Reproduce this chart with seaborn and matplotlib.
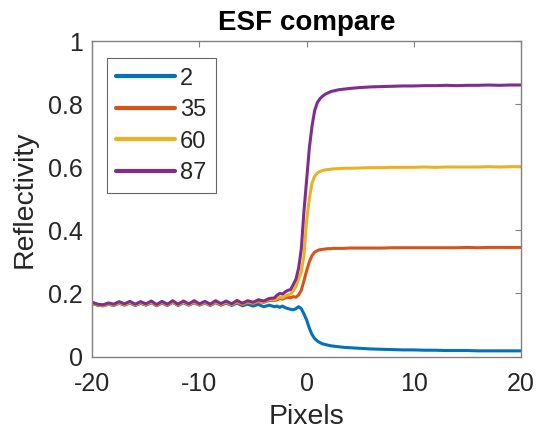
import numpy as np
import pandas as pd
import matplotlib
matplotlib.use("Agg")
import matplotlib.pyplot as plt
import seaborn as sns

# ---- data ----
pixels = [-20.0, -19.5, -19.0, -18.5, -18.0, -17.5, -17.0, -16.5, -16.0, -15.5,
          -15.0, -14.5, -14.0, -13.5, -13.0, -12.5, -12.0, -11.5, -11.0, -10.5,
          -10.0, -9.5, -9.0, -8.5, -8.0, -7.5, -7.0, -6.5, -6.0, -5.5,
          -5.0, -4.5, -4.0, -3.5, -3.0,
          -2.75, -2.5, -2.25, -2.0, -1.75, -1.5, -1.25, -1.0, -0.75, -0.5, -0.25,
          0.0, 0.25, 0.5, 0.75, 1.0, 1.25, 1.5, 1.75, 2.0, 2.25, 2.5,
          3.0, 3.5, 4.0, 5.0, 6.0, 7.0, 8.0, 9.0, 10.0, 11.0, 12.0, 13.0, 14.0,
          15.0, 16.0, 17.0, 18.0, 19.0, 20.0]

esf_2 = [0.168, 0.163, 0.161, 0.166, 0.162, 0.169, 0.163, 0.170, 0.162, 0.169,
         0.163, 0.171, 0.161, 0.170, 0.162, 0.172, 0.162, 0.171, 0.163, 0.171,
         0.163, 0.170, 0.162, 0.171, 0.163, 0.170, 0.162, 0.170, 0.161, 0.166,
         0.160, 0.165, 0.158, 0.163, 0.158,
         0.160, 0.156, 0.160, 0.155, 0.152, 0.150, 0.148, 0.152, 0.158, 0.152, 0.135,
         0.116, 0.090, 0.070, 0.057, 0.049, 0.044, 0.040, 0.038, 0.036, 0.034, 0.033,
         0.031, 0.029, 0.028, 0.026, 0.024, 0.023, 0.022, 0.021, 0.021, 0.020, 0.020,
         0.019, 0.019, 0.019, 0.018, 0.018, 0.018, 0.018, 0.018]

esf_35 = [0.169, 0.163, 0.161, 0.167, 0.163, 0.170, 0.164, 0.171, 0.163, 0.170,
          0.164, 0.172, 0.162, 0.171, 0.163, 0.173, 0.163, 0.172, 0.164, 0.172,
          0.164, 0.171, 0.163, 0.172, 0.164, 0.171, 0.164, 0.172, 0.165, 0.171,
          0.168, 0.174, 0.172, 0.178, 0.178,
          0.180, 0.184, 0.182, 0.186, 0.188, 0.186, 0.190, 0.188, 0.195, 0.210, 0.240,
          0.272, 0.300, 0.320, 0.331, 0.336, 0.339, 0.340, 0.341, 0.342, 0.342, 0.343,
          0.343, 0.343, 0.344, 0.344, 0.344, 0.344, 0.345, 0.345, 0.345, 0.345, 0.345,
          0.345, 0.345, 0.346, 0.345, 0.346, 0.346, 0.346, 0.346]

esf_60 = [0.170, 0.164, 0.162, 0.168, 0.164, 0.171, 0.165, 0.172, 0.164, 0.171,
          0.165, 0.173, 0.163, 0.172, 0.164, 0.174, 0.164, 0.173, 0.165, 0.174,
          0.165, 0.172, 0.164, 0.174, 0.166, 0.173, 0.165, 0.175, 0.167, 0.174,
          0.170, 0.177, 0.174, 0.181, 0.181,
          0.184, 0.188, 0.186, 0.192, 0.195, 0.198, 0.208, 0.222, 0.245, 0.268, 0.320,
          0.430, 0.500, 0.550, 0.572, 0.582, 0.587, 0.590, 0.592, 0.593, 0.594, 0.595,
          0.596, 0.597, 0.597, 0.598, 0.599, 0.599, 0.600, 0.600, 0.600, 0.601, 0.600,
          0.601, 0.601, 0.601, 0.601, 0.602, 0.601, 0.602, 0.602]

esf_87 = [0.172, 0.166, 0.164, 0.170, 0.166, 0.174, 0.167, 0.175, 0.166, 0.174,
          0.167, 0.176, 0.165, 0.175, 0.166, 0.177, 0.166, 0.176, 0.167, 0.177,
          0.167, 0.175, 0.166, 0.177, 0.168, 0.176, 0.167, 0.178, 0.169, 0.177,
          0.172, 0.180, 0.176, 0.184, 0.186,
          0.195, 0.200, 0.198, 0.205, 0.210, 0.212, 0.228, 0.245, 0.280, 0.340, 0.460,
          0.560, 0.660, 0.730, 0.780, 0.805, 0.818, 0.826, 0.832, 0.836, 0.840, 0.842,
          0.846, 0.848, 0.850, 0.853, 0.855, 0.856, 0.857, 0.858, 0.858, 0.859, 0.859,
          0.860, 0.859, 0.860, 0.860, 0.861, 0.860, 0.861, 0.861]

series_names = ["2", "35", "60", "87"]
series_colors = ["#0072BD", "#D95319", "#EDB120", "#7E2F8E"]
x_ticks = [-20, -10, 0, 10, 20]
x_ticklabels = ["-20", "-10", "0", "10", "20"]
y_ticks = [0, 0.2, 0.4, 0.6, 0.8, 1.0]
y_ticklabels = ["0", "0.2", "0.4", "0.6", "0.8", "1"]

frames = []
for name, vals in zip(series_names, [esf_2, esf_35, esf_60, esf_87]):
    frames.append(pd.DataFrame({"Pixels": pixels, "Reflectivity": vals, "angle": name}))
df = pd.concat(frames, ignore_index=True)

# ---- style ----
sns.set_theme(style="white")
plt.rcParams["font.family"] = ["Liberation Sans", "DejaVu Sans"]

fig = plt.figure(figsize=(5.37, 4.38), dpi=100)
ax = fig.add_axes([0.172, 0.186, 0.798, 0.720])

sns.lineplot(data=df, x="Pixels", y="Reflectivity", hue="angle",
             hue_order=series_names, palette=series_colors,
             linewidth=2.2, ax=ax, estimator=None, sort=False)

ax.set_xlim(-20, 20)
ax.set_ylim(0, 1)
ax.set_xticks(x_ticks)
ax.set_xticklabels(x_ticklabels)
ax.set_yticks(y_ticks)
ax.set_yticklabels(y_ticklabels)

axcol = "#262626"
for s in ax.spines.values():
    s.set_visible(True)
    s.set_color("#808080")
    s.set_linewidth(1.0)
ax.tick_params(direction="in", length=4, width=0.8, color="#808080",
               top=True, right=True, labelsize=18, labelcolor=axcol)
ax.tick_params(axis="x", pad=11)
ax.tick_params(axis="y", pad=7)

ax.set_xlabel("Pixels", fontsize=20.5, color=axcol, labelpad=6)
ax.set_ylabel("Reflectivity", fontsize=20.5, color=axcol, labelpad=7)
ax.set_title("ESF compare", fontsize=20, fontweight="bold", color="black", pad=8)

leg = ax.legend(loc="upper left", bbox_to_anchor=(0.033, 0.946), borderaxespad=0,
                fontsize=17, handlelength=2.5, handletextpad=0.2,
                labelspacing=0.4, borderpad=0.4, frameon=True, fancybox=False,
                title=None)
leg.get_frame().set_edgecolor("#404040")
leg.get_frame().set_linewidth(0.8)
for t in leg.get_texts():
    t.set_color(axcol)
for l in leg.get_lines():
    l.set_linewidth(3.0)

fig.savefig("out.png", dpi=100, facecolor="white")
